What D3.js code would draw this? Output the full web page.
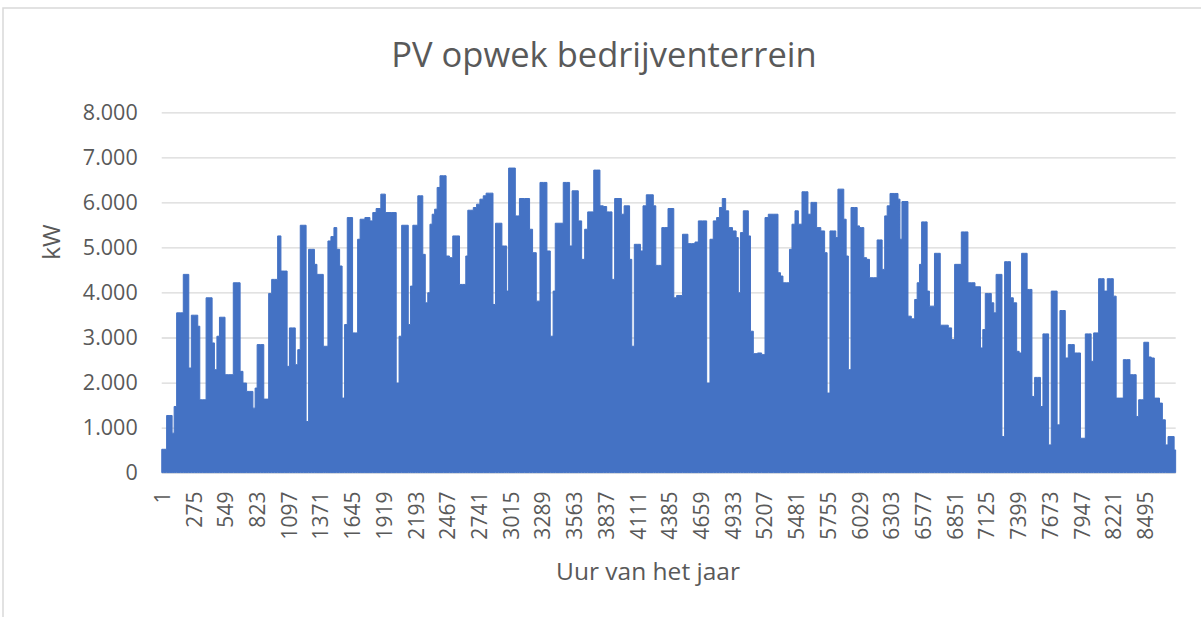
<!DOCTYPE html>
<html>
<head>
<meta charset="utf-8">
<script src="https://cdn.jsdelivr.net/npm/d3@7"></script>
<style>
  body { margin: 0; background: #fff; }
  text { font-family: "Open Sans", sans-serif; fill: #595959; }
</style>
</head>
<body>
<script>
const uren = [
  1, 37, 49, 80, 101, 115, 144, 178, 196, 224, 245, 268, 302, 322, 337, 374, 394, 426, 446, 466,
  489, 510, 539, 556, 605, 633, 671, 685, 720, 748, 777, 800, 815, 835, 872, 893, 913, 936, 965, 988,
  1016, 1045, 1074, 1094, 1114, 1143, 1166, 1186, 1209, 1238, 1258, 1281, 1310, 1330, 1353, 1382, 1411, 1425, 1448, 1477,
  1500, 1526, 1549, 1569, 1592, 1615, 1638, 1661, 1684, 1702, 1727, 1785, 1814, 1834, 1872, 1915, 1950, 2016, 2037, 2065,
  2082, 2122, 2139, 2160, 2180, 2203, 2223, 2246, 2266, 2289, 2309, 2327, 2347, 2370, 2390, 2419, 2447, 2468, 2505, 2525,
  2563, 2583, 2620, 2635, 2655, 2678, 2707, 2735, 2764, 2793, 2813, 2851, 2874, 2894, 2928, 2951, 2975, 2986, 3009, 3044,
  3067, 3081, 3101, 3167, 3190, 3219, 3254, 3283, 3317, 3340, 3375, 3389, 3412, 3455, 3484, 3513, 3536, 3556, 3585, 3614,
  3643, 3666, 3695, 3723, 3743, 3772, 3801, 3830, 3859, 3879, 3902, 3925, 3960, 3983, 4008, 4031, 4054, 4069, 4098, 4126,
  4147, 4170, 4204, 4233, 4262, 4276, 4314, 4328, 4363, 4386, 4414, 4435, 4463, 4492, 4507, 4535, 4558, 4593, 4622, 4651,
  4694, 4723, 4751, 4780, 4809, 4829, 4858, 4887, 4910, 4953, 4973, 4990, 5011, 5039, 5060, 5077, 5097, 5126, 5169, 5198,
  5227, 5255, 5313, 5336, 5356, 5379, 5414, 5434, 5457, 5486, 5515, 5549, 5572, 5595, 5624, 5644, 5673, 5716, 5739, 5759,
  5788, 5817, 5831, 5854, 5883, 5903, 5924, 5941, 5970, 5998, 6019, 6039, 6056, 6076, 6105, 6125, 6171, 6191, 6214, 6235,
  6258, 6278, 6307, 6350, 6373, 6384, 6407, 6436, 6459, 6494, 6517, 6537, 6557, 6574, 6603, 6623, 6643, 6666, 6687, 6715,
  6738, 6782, 6810, 6839, 6862, 6897, 6920, 6954, 6977, 7012, 7041, 7064, 7084, 7104, 7127, 7156, 7179, 7199, 7219, 7248,
  7271, 7294, 7323, 7343, 7372, 7401, 7415, 7444, 7467, 7487, 7507, 7530, 7553, 7582, 7602, 7625, 7651, 7674, 7697, 7726,
  7746, 7775, 7795, 7818, 7847, 7870, 7899, 7928, 7948, 7968, 7991, 8020, 8040, 8063, 8083, 8106, 8129, 8155, 8184, 8207,
  8236, 8256, 8294, 8322, 8351, 8380, 8409, 8429, 8452, 8475, 8495, 8515, 8538, 8561, 8590, 8610, 8631, 8660, 8682, 8706,
  8734, 8760
];
const vermogen = [
  518, 518, 1268, 1268, 875, 1468, 3547, 3547, 4401, 4401, 2322, 3495, 3495, 3250, 1617, 1617, 3881, 3881, 2879, 2285,
  3028, 3450, 3450, 2174, 2174, 4215, 4215, 2248, 1988, 1803, 1803, 1431, 1877, 2842, 2842, 1632, 1632, 3978, 4290, 4290,
  5255, 4475, 4475, 2359, 3213, 3213, 2397, 2730, 5492, 5492, 1134, 4958, 4958, 4624, 4401, 4401, 2805, 2805, 5143, 5240,
  5440, 4958, 4587, 1654, 3287, 5663, 5663, 3102, 3102, 5181, 5626, 5663, 5589, 5774, 5864, 6183, 5774, 5774, 1988, 3028,
  5492, 5492, 3287, 4141, 5492, 5492, 6146, 6146, 4846, 3770, 3993, 5515, 5737, 5849, 6331, 6591, 6591, 4809, 4772, 5255,
  5255, 4178, 4178, 4809, 5826, 5826, 5886, 5960, 6071, 6146, 6205, 6205, 3733, 5537, 5537, 5032, 5032, 4030, 6762, 6762,
  5700, 5700, 6086, 6086, 5403, 4883, 3807, 6443, 6443, 4921, 3028, 4030, 5537, 5537, 6443, 6443, 5032, 6257, 6257, 5589,
  4735, 5403, 5789, 5789, 6717, 6717, 5923, 5908, 5789, 5789, 4290, 6086, 6086, 5737, 5923, 5923, 4735, 2805, 5069, 5069,
  4921, 5923, 6168, 6168, 5923, 4601, 4601, 5440, 5440, 5864, 5864, 3881, 3933, 3933, 5292, 5292, 5084, 5084, 5120, 5589,
  5589, 1988, 5181, 5589, 5663, 5886, 6086, 5812, 5440, 5366, 5218, 3993, 5329, 5812, 5812, 5255, 3139, 2641, 2656, 2619,
  5663, 5737, 5737, 4438, 4364, 4215, 4215, 4958, 5515, 5812, 5515, 6235, 6235, 5737, 6000, 6000, 5440, 5366, 4883, 1766,
  5366, 5366, 5218, 6294, 6294, 5626, 4809, 2285, 5886, 5886, 5478, 5440, 5440, 4772, 4735, 4327, 4327, 5166, 5166, 4512,
  5700, 5923, 6198, 6198, 6071, 5181, 6019, 6019, 3473, 3414, 3844, 4215, 4624, 5567, 5567, 4030, 3696, 3696, 4869, 4869,
  3273, 3273, 3213, 2953, 4624, 4624, 5344, 5344, 4215, 4215, 4126, 4126, 2768, 3176, 3978, 3978, 3770, 3547, 4401, 4401,
  800, 4683, 4683, 3881, 3770, 2693, 2656, 4869, 4869, 4067, 4067, 1691, 2114, 2114, 1468, 3080, 3080, 615, 4030, 4030,
  1060, 3599, 3599, 2545, 2842, 2842, 2656, 2656, 763, 763, 3080, 3080, 2471, 3102, 3102, 4305, 4305, 4030, 4305, 4305,
  3918, 1654, 1654, 2508, 2508, 2174, 2174, 1246, 1617, 1617, 2894, 2894, 2567, 2545, 1654, 1654, 1543, 1172, 615, 800,
  800, 503
];
// labels op de categorie-as (elke 274 uur)
const uurLabels = [1, 275, 549, 823, 1097, 1371, 1645, 1919, 2193, 2467, 2741, 3015, 3289, 3563, 3837, 4111,
  4385, 4659, 4933, 5207, 5481, 5755, 6029, 6303, 6577, 6851, 7125, 7399, 7673, 7947, 8221, 8495];
const kwTicks = [0, 1000, 2000, 3000, 4000, 5000, 6000, 7000, 8000];

const W = 1201, H = 617;
const plot = {left: 161.7, right: 1175.7, top: 112.3, bottom: 472.6};

const nl = d3.formatLocale({decimal: ",", thousands: ".", grouping: [3], currency: ["€ ", ""]});
const fmt = nl.format(",d");

const svg = d3.select("body").append("svg")
  .attr("width", W)
  .attr("height", H);

// rand van de grafiek
svg.append("path")
  .attr("d", "M3,617 L3,8 L1201,8")
  .attr("fill", "none")
  .attr("stroke", "#d9d9d9")
  .attr("stroke-width", 1.5);

const x = d3.scaleLinear()
  .domain([0.5, 8760.5])
  .range([plot.left, plot.right]);

const y = d3.scaleLinear()
  .domain([0, 8000])
  .range([plot.bottom, plot.top]);

// y-as met rasterlijnen
const yAxis = svg.append("g")
  .attr("transform", "translate(" + plot.left + ",0)")
  .call(d3.axisLeft(y).tickValues(kwTicks).tickFormat(fmt)
    .tickSize(-(plot.right - plot.left)).tickPadding(24));
yAxis.select(".domain").remove();
yAxis.selectAll("line").attr("stroke", "#d9d9d9").attr("stroke-width", 1.3);
yAxis.selectAll("text")
  .style("font-size", "21.5px")
  .attr("fill", "#595959");

// de reeks
const data = uren.map((u, i) => ({uur: u, kw: vermogen[i]}));

svg.append("path")
  .datum(data)
  .attr("fill", "#4472c4")
  .attr("stroke", "#4472c4")
  .attr("stroke-width", 1)
  .attr("stroke-linejoin", "round")
  .attr("d", d3.area()
    .curve(d3.curveStep)
    .x(d => x(d.uur))
    .y0(y(0))
    .y1(d => y(d.kw)));

// x-as
const xAxis = svg.append("g")
  .attr("transform", "translate(0," + plot.bottom + ")")
  .call(d3.axisBottom(x).tickValues(uurLabels).tickFormat(d => d).tickSize(0));
xAxis.select(".domain").remove();
xAxis.selectAll("text")
  .style("font-size", "21px")
  .attr("fill", "#595959")
  .attr("transform", "rotate(-90)")
  .attr("x", -19)
  .attr("y", 0)
  .attr("dy", "0.36em")
  .attr("text-anchor", "end");

// titels
svg.append("text")
  .attr("x", 604)
  .attr("y", 67)
  .attr("text-anchor", "middle")
  .style("font-size", "34.5px")
  .text("PV opwek bedrijventerrein");

svg.append("text")
  .attr("x", 648)
  .attr("y", 580)
  .attr("text-anchor", "middle")
  .style("font-size", "24.5px")
  .text("Uur van het jaar");

svg.append("text")
  .attr("transform", "translate(60,242) rotate(-90)")
  .attr("text-anchor", "middle")
  .style("font-size", "24.5px")
  .text("kW");
</script>
</body>
</html>
